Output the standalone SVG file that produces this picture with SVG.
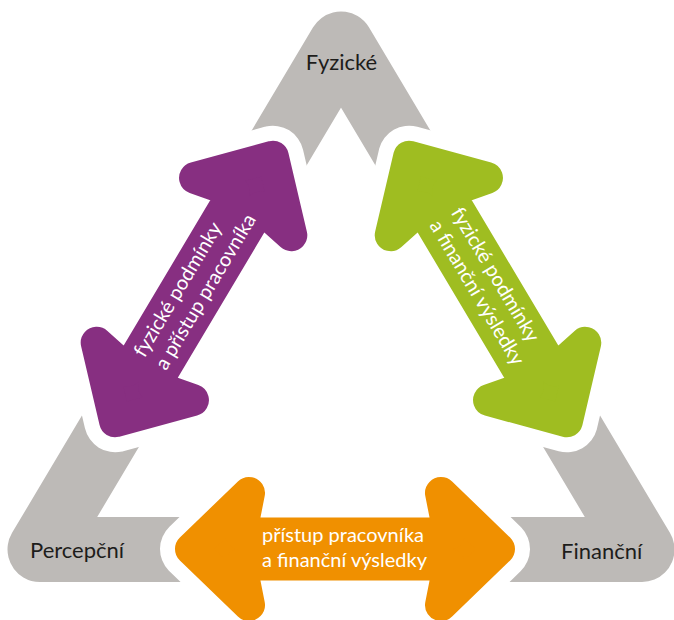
<svg xmlns="http://www.w3.org/2000/svg" xmlns:xlink="http://www.w3.org/1999/xlink" width="674" height="620" viewBox="0 0 674 620">
  <style>
    .band { fill: none; stroke: #bdbab7; stroke-width: 65; stroke-linejoin: round; stroke-linecap: butt; }
    .node-label { font-family: Lato, "Open Sans", "Liberation Sans", sans-serif; font-size: 22px; fill: #1d1d1b; }
    .halo { fill: #ffffff; stroke: #ffffff; stroke-width: 62; stroke-linejoin: round; }
    .body { stroke-width: 32; stroke-linejoin: round; }
    .purple { fill: #872f81; stroke: #872f81; }
    .green { fill: #9fbd21; stroke: #9fbd21; }
    .orange { fill: #f09000; stroke: #f09000; }
    .arrow-label { font-family: Lato, "Open Sans", "Liberation Sans", sans-serif; font-size: 20px; fill: #ffffff; }
  </style>
  <defs>
    <!-- core of the double arrow; the stroke of .body rounds its outer corners by 16 px -->
    <polygon id="arrow-core" points="154,0 96,-56 104,-15.5 -104,-15.5 -96,-56 -154,0 -96,56 -104,15.5 104,15.5 96,56"/>
  </defs>

  <!-- triangle corners: each piece is a bent band through one vertex -->
  <g id="node-fyzicke">
    <polyline class="band" points="190.5,296.75 341,44 491.5,296.75"/>
    <text class="node-label" x="341.5" y="70" text-anchor="middle">Fyzické</text>
  </g>
  <g id="node-percepcni">
    <polyline class="band" points="190.5,296.75 40,549.5 341,549.5"/>
    <text class="node-label" x="30" y="558">Percepční</text>
  </g>
  <g id="node-financni">
    <polyline class="band" points="341,549.5 642,549.5 491.5,296.75"/>
    <text class="node-label" x="561" y="559">Finanční</text>
  </g>

  <!-- double arrows along the sides, each with a white halo -->
  <g id="connectors">
    <g id="arrow-fyzicke-percepcni" transform="translate(194,289) rotate(-59.2)">
      <use xlink:href="#arrow-core" href="#arrow-core" class="halo"/>
      <use xlink:href="#arrow-core" href="#arrow-core" class="body purple"/>
      <text class="arrow-label" x="-85" y="-7">fyzické podmínky</text>
      <text class="arrow-label" x="-85" y="18">a přístup pracovníka</text>
    </g>
    <g id="arrow-fyzicke-financni" transform="translate(488,289) rotate(59.2)">
      <use xlink:href="#arrow-core" href="#arrow-core" class="halo"/>
      <use xlink:href="#arrow-core" href="#arrow-core" class="body green"/>
      <text class="arrow-label" x="-85" y="-7">fyzické podmínky</text>
      <text class="arrow-label" x="-85" y="18">a finanční výsledky</text>
    </g>
    <g id="arrow-percepcni-financni" transform="translate(345,549)">
      <use xlink:href="#arrow-core" href="#arrow-core" class="halo"/>
      <use xlink:href="#arrow-core" href="#arrow-core" class="body orange"/>
      <text class="arrow-label" x="-83" y="-7">přístup pracovníka</text>
      <text class="arrow-label" x="-83" y="18">a finanční výsledky</text>
    </g>
  </g>
</svg>
